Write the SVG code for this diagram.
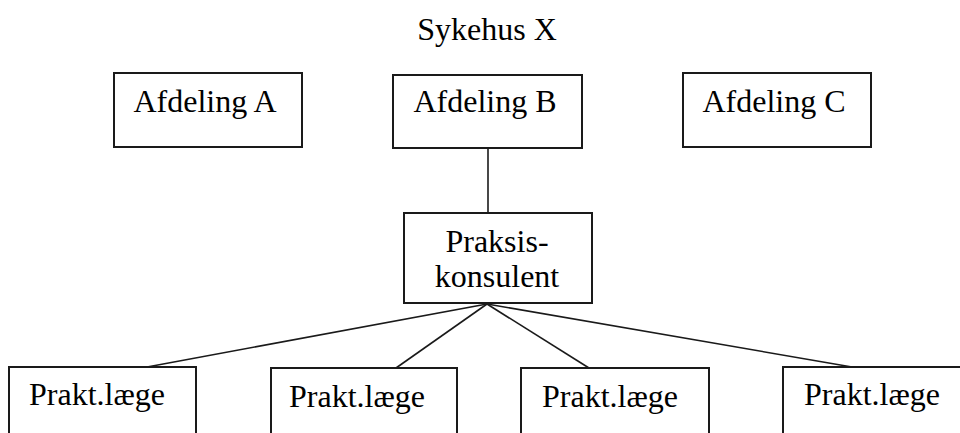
<svg xmlns="http://www.w3.org/2000/svg" width="960" height="433" viewBox="0 0 960 433">
<style>
.box{fill:#fff;stroke:#1a1a1a;stroke-width:2}
.t{font-family:"Liberation Serif","Times New Roman",serif;font-size:32px;fill:#000;text-anchor:middle}
.c{stroke:#1a1a1a;stroke-width:1.6;fill:none}
</style>
<rect width="960" height="433" fill="#fff"/>
<text class="t" x="487" y="40">Sykehus X</text>
<g id="connectors">
<line class="c" x1="488" y1="148" x2="488" y2="213"/>
<line class="c" x1="487" y1="304" x2="147" y2="367"/>
<line class="c" x1="487" y1="304" x2="396" y2="368"/>
<line class="c" x1="487" y1="304" x2="589" y2="368"/>
<line class="c" x1="487" y1="304" x2="852" y2="367"/>
</g>
<g id="afdeling-a"><rect class="box" x="114" y="73" width="188" height="74"/><text class="t" x="205" y="112">Afdeling A</text></g>
<g id="afdeling-b"><rect class="box" x="393" y="75" width="189" height="73"/><text class="t" x="485" y="112">Afdeling B</text></g>
<g id="afdeling-c"><rect class="box" x="683" y="73" width="188" height="74"/><text class="t" x="774" y="112">Afdeling C</text></g>
<g id="praksiskonsulent"><rect class="box" x="404" y="213" width="188" height="90"/><text class="t" x="497" y="252">Praksis-</text><text class="t" x="497" y="287">konsulent</text></g>
<g id="prakt-1"><rect class="box" x="9" y="367" width="187" height="80"/><text class="t" x="97" y="405">Prakt.læge</text></g>
<g id="prakt-2"><rect class="box" x="271" y="368" width="186" height="80"/><text class="t" x="357" y="407">Prakt.læge</text></g>
<g id="prakt-3"><rect class="box" x="521" y="368" width="188" height="80"/><text class="t" x="610" y="407">Prakt.læge</text></g>
<g id="prakt-4"><rect class="box" x="783" y="367" width="200" height="80"/><text class="t" x="872" y="405">Prakt.læge</text></g>
</svg>
